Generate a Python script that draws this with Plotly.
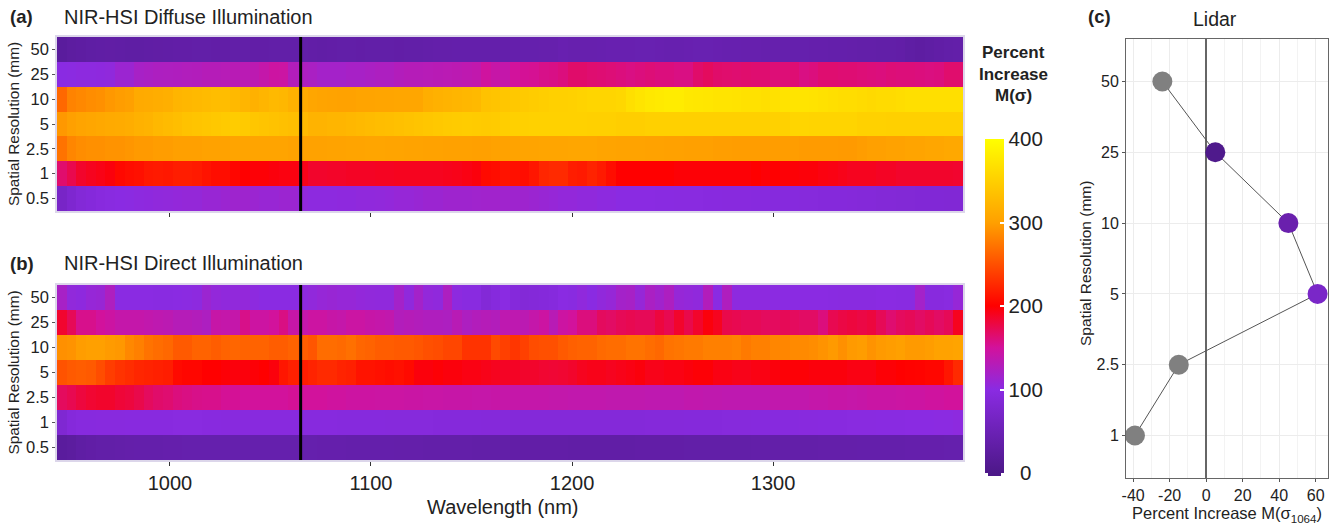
import plotly.graph_objects as go

W, H = 1336, 530

wavelength = [
    946.2, 951.0, 955.8, 960.6, 965.4, 970.2, 975.0, 979.8, 984.6, 989.4,
    994.1, 998.9, 1003.7, 1008.5, 1013.3, 1018.1, 1022.9, 1027.7, 1032.5, 1037.3,
    1042.1, 1046.9, 1051.7, 1056.5, 1061.3, 1066.1, 1070.9, 1075.7, 1080.5, 1085.3,
    1090.0, 1094.8, 1099.6, 1104.4, 1109.2, 1114.0, 1118.8, 1123.6, 1128.4, 1133.2,
    1138.0, 1142.8, 1147.6, 1152.4, 1157.2, 1162.0, 1166.8, 1171.6, 1176.4, 1181.2,
    1185.9, 1190.7, 1195.5, 1200.3, 1205.1, 1209.9, 1214.7, 1219.5, 1224.3, 1229.1,
    1233.9, 1238.7, 1243.5, 1248.3, 1253.1, 1257.9, 1262.7, 1267.5, 1272.3, 1277.1,
    1281.8, 1286.6, 1291.4, 1296.2, 1301.0, 1305.8, 1310.6, 1315.4, 1320.2, 1325.0,
    1329.8, 1334.6, 1339.4, 1344.2, 1349.0, 1353.8, 1358.6, 1363.4, 1368.2, 1373.0,
    1377.7, 1382.5, 1387.3, 1392.1,
]
resolutions = ["0.5", "1", "2.5", "5", "10", "25", "50"]

# Panel (a) percent increase by spatial resolution
a_50 = [
    22, 26, 28, 30, 31, 32, 31, 30, 30, 31,
    32, 33, 34, 34, 35, 35, 34, 34, 35, 35,
    34, 34, 35, 35, 35, 35, 34, 33, 34, 35,
    35, 34, 35, 35, 35, 34, 35, 35, 36, 37,
    37, 38, 38, 38, 38, 38, 38, 39, 40, 40,
    41, 41, 44, 42, 42, 42, 43, 44, 44, 44,
    45, 45, 44, 43, 43, 44, 45, 45, 44, 43,
    43, 42, 42, 41, 41, 40, 40, 40, 39, 39,
    38, 38, 37, 36, 36, 35, 35, 34, 30, 28,
    30, 33, 35, 36,
]
a_25 = [
    100, 101, 102, 102, 103, 104, 112, 112, 120, 122,
    124, 125, 126, 127, 128, 130, 130, 131, 132, 133,
    135, 140, 146, 145, 128, 124, 122, 118, 118, 118,
    120, 120, 122, 124, 124, 128, 130, 130, 131, 132,
    133, 134, 136, 138, 148, 142, 140, 150, 152, 153,
    156, 157, 160, 166, 166, 164, 163, 162, 160, 158,
    160, 162, 160, 160, 158, 158, 166, 170, 166, 165,
    164, 165, 164, 164, 162, 162, 163, 158, 160, 164,
    164, 163, 163, 162, 161, 160, 162, 161, 161, 160,
    159, 160, 165, 165,
]
a_10 = [
    265, 282, 285, 288, 290, 295, 298, 300, 310, 312,
    314, 316, 322, 324, 326, 328, 330, 330, 326, 322,
    318, 322, 326, 324, 318, 312, 306, 304, 303, 302,
    302, 304, 304, 305, 305, 306, 306, 306, 315, 318,
    320, 322, 324, 326, 336, 338, 340, 342, 344, 346,
    348, 350, 350, 352, 354, 356, 356, 356, 358, 366,
    372, 376, 378, 380, 380, 376, 375, 374, 372, 372,
    370, 368, 368, 366, 368, 370, 372, 372, 370, 368,
    366, 364, 364, 362, 360, 362, 362, 364, 366, 366,
    366, 366, 366, 366,
]
a_5 = [
    295, 300, 304, 306, 308, 310, 312, 314, 318, 320,
    325, 328, 332, 336, 338, 340, 342, 344, 346, 344,
    340, 338, 336, 334, 332, 326, 320, 320, 322, 322,
    324, 326, 328, 330, 332, 334, 336, 338, 340, 342,
    344, 345, 346, 345, 344, 345, 348, 350, 350, 352,
    352, 352, 352, 352, 352, 350, 350, 350, 348, 348,
    348, 350, 350, 350, 350, 350, 350, 350, 350, 350,
    350, 350, 350, 350, 352, 352, 356, 356, 355, 355,
    355, 355, 355, 352, 352, 352, 350, 350, 350, 350,
    350, 350, 350, 350,
]
a_25mm_half = [
    272, 284, 288, 290, 290, 292, 292, 294, 296, 296,
    298, 298, 300, 300, 300, 302, 302, 302, 304, 304,
    304, 304, 304, 304, 302, 302, 302, 302, 303, 303,
    304, 304, 305, 305, 304, 304, 303, 303, 302, 302,
    301, 301, 301, 300, 300, 302, 302, 303, 304, 304,
    305, 305, 305, 306, 306, 306, 304, 304, 303, 303,
    303, 302, 302, 301, 301, 300, 300, 300, 299, 299,
    298, 298, 298, 298, 298, 298, 298, 297, 297, 297,
    297, 296, 296, 298, 300, 300, 302, 302, 304, 304,
    306, 306, 308, 308,
]
a_1 = [
    165, 175, 186, 190, 193, 196, 205, 208, 210, 215,
    216, 215, 218, 218, 216, 212, 208, 208, 204, 200,
    198, 198, 196, 195, 195, 192, 186, 186, 187, 187,
    188, 188, 188, 189, 189, 190, 190, 190, 190, 190,
    191, 192, 194, 196, 206, 208, 212, 210, 208, 214,
    224, 226, 226, 218, 216, 222, 216, 208, 200, 200,
    200, 200, 200, 200, 198, 198, 198, 198, 198, 198,
    198, 198, 200, 198, 200, 198, 198, 197, 197, 195,
    194, 192, 190, 190, 190, 188, 188, 186, 186, 186,
    186, 186, 186, 185,
]
a_05 = [
    70, 80, 88, 92, 96, 98, 100, 101, 102, 103,
    104, 105, 106, 107, 107, 110, 110, 112, 114, 114,
    112, 110, 110, 112, 112, 105, 102, 102, 102, 103,
    103, 104, 104, 105, 106, 108, 108, 110, 112, 112,
    114, 114, 114, 115, 116, 116, 115, 114, 114, 112,
    110, 108, 106, 106, 104, 104, 102, 102, 100, 100,
    100, 100, 99, 99, 98, 98, 98, 97, 97, 96,
    96, 96, 95, 95, 94, 94, 94, 93, 93, 92,
    92, 92, 91, 90, 90, 88, 88, 87, 87, 86,
    86, 86, 85, 85,
]

# Panel (b) percent increase by spatial resolution
b_50 = [
    120, 105, 103, 108, 110, 125, 100, 100, 100, 100,
    99, 99, 100, 101, 102, 112, 106, 104, 105, 106,
    102, 100, 100, 100, 100, 102, 105, 108, 110, 108,
    108, 106, 105, 104, 104, 118, 104, 118, 106, 104,
    124, 102, 98, 98, 88, 94, 100, 92, 88, 90,
    92, 94, 100, 98, 104, 100, 105, 108, 118, 120,
    108, 122, 116, 124, 108, 106, 104, 128, 100, 126,
    102, 102, 102, 102, 101, 100, 100, 100, 100, 100,
    99, 98, 98, 98, 98, 100, 100, 99, 99, 118,
    96, 96, 98, 108,
]
b_25 = [
    185, 172, 155, 155, 150, 146, 140, 140, 140, 138,
    136, 134, 130, 130, 128, 124, 142, 140, 140, 156,
    146, 146, 150, 158, 142, 140, 146, 146, 142, 140,
    145, 145, 142, 140, 138, 128, 130, 128, 126, 126,
    124, 132, 124, 128, 130, 128, 136, 136, 134, 140,
    146, 132, 146, 150, 160, 160, 170, 168, 172, 174,
    172, 172, 180, 174, 186, 176, 186, 196, 190, 176,
    174, 172, 172, 170, 170, 172, 170, 168, 168, 160,
    174, 178, 180, 178, 180, 172, 164, 170, 172, 168,
    172, 168, 172, 190,
]
b_10 = [
    290, 292, 298, 300, 300, 297, 295, 285, 280, 272,
    268, 265, 256, 256, 262, 262, 258, 262, 264, 262,
    262, 262, 258, 258, 262, 258, 254, 268, 268, 266,
    270, 264, 262, 258, 258, 256, 256, 254, 250, 248,
    244, 244, 232, 232, 232, 246, 240, 234, 240, 248,
    250, 250, 256, 260, 262, 262, 266, 268, 268, 272,
    272, 268, 265, 272, 274, 276, 276, 280, 280, 280,
    282, 276, 280, 280, 284, 284, 286, 286, 288, 292,
    296, 290, 296, 298, 292, 296, 298, 300, 296, 296,
    298, 302, 302, 304,
]
b_5 = [
    252, 256, 258, 256, 248, 238, 232, 228, 224, 222,
    220, 218, 206, 204, 204, 200, 200, 198, 196, 196,
    198, 200, 196, 214, 220, 218, 222, 226, 226, 222,
    220, 212, 212, 210, 208, 210, 206, 196, 196, 198,
    196, 196, 194, 194, 192, 190, 188, 188, 186, 186,
    184, 183, 184, 186, 190, 192, 192, 190, 192, 194,
    196, 192, 192, 194, 194, 196, 198, 198, 194, 194,
    192, 192, 194, 194, 196, 198, 198, 198, 196, 196,
    196, 196, 194, 194, 194, 198, 198, 200, 201, 202,
    204, 204, 214, 226,
]
b_25mm_half = [
    170, 174, 180, 184, 186, 186, 182, 180, 176, 170,
    166, 164, 160, 158, 156, 155, 155, 152, 152, 150,
    150, 150, 150, 150, 152, 150, 150, 150, 148, 148,
    146, 146, 146, 145, 145, 145, 144, 144, 143, 143,
    142, 142, 142, 141, 141, 142, 141, 141, 140, 140,
    140, 139, 139, 138, 138, 138, 138, 137, 137, 137,
    137, 136, 136, 136, 136, 138, 138, 137, 137, 136,
    136, 136, 136, 136, 138, 138, 138, 138, 140, 140,
    142, 142, 141, 142, 144, 144, 144, 145, 146, 146,
    148, 148, 150, 150,
]
b_1 = [
    82, 92, 95, 95, 96, 96, 96, 97, 97, 97,
    97, 97, 98, 98, 98, 97, 97, 96, 96, 96,
    96, 96, 96, 96, 96, 95, 95, 95, 95, 94,
    94, 94, 94, 94, 93, 93, 93, 93, 93, 92,
    92, 92, 92, 92, 91, 91, 91, 90, 90, 90,
    90, 90, 90, 90, 90, 90, 90, 90, 90, 90,
    90, 91, 91, 91, 91, 92, 92, 92, 92, 93,
    93, 93, 94, 94, 95, 95, 95, 96, 96, 97,
    97, 97, 98, 98, 98, 99, 99, 99, 100, 100,
    100, 101, 101, 102,
]
b_05 = [
    22, 25, 30, 33, 35, 35, 36, 37, 38, 38,
    38, 39, 39, 40, 40, 40, 40, 40, 40, 40,
    40, 40, 40, 40, 40, 40, 40, 39, 39, 39,
    38, 38, 38, 38, 38, 37, 37, 37, 36, 36,
    36, 36, 36, 35, 35, 35, 35, 34, 34, 34,
    34, 34, 34, 33, 33, 33, 33, 33, 33, 33,
    34, 34, 34, 34, 34, 35, 35, 35, 35, 35,
    35, 35, 36, 36, 36, 36, 36, 36, 36, 37,
    37, 37, 37, 38, 38, 38, 38, 38, 39, 39,
    39, 39, 40, 40,
]

z_a = [a_05, a_1, a_25mm_half, a_5, a_10, a_25, a_50]
z_b = [b_05, b_1, b_25mm_half, b_5, b_10, b_25, b_50]

# Panel (c) lidar
lidar_res = ["50", "25", "10", "5", "2.5", "1"]
lidar_pct = [-24, 5, 45, 61, -15, -39]
lidar_colors = ["#808080", "#4f1a8c", "#6a20ad", "#7a27c8", "#808080", "#808080"]
lidar_order = ["1", "2.5", "5", "10", "25", "50"]

wave_ticks = [1000, 1100, 1200, 1300]
cbar_ticks = [0, 100, 200, 300, 400]
cbar_labels = ["\u00a0\u00a00", "100", "200", "300", "400"]
lidar_ticks = [-40, -20, 0, 20, 40, 60]
lidar_tick_labels = ["-40", "-20", "0", "20", "40", "60"]

colorscale = [
    [0.0, "#4d1889"], [0.25, "#8a2be2"], [0.375, "#d2129c"], [0.5, "#ff0000"],
    [0.75, "#ffa000"], [1.0, "#ffff00"],
]
FONT = "Liberation Sans, Arial, sans-serif"
INK = "#222222"
BORDER = "#dcd6ea"


def px(x):
    return x / W


def py(y):
    return 1 - y / H


fig = go.Figure()
fig.add_trace(go.Heatmap(x=wavelength, y=resolutions, z=z_a, coloraxis="coloraxis",
                         xaxis="x", yaxis="y", hoverongaps=False))
fig.add_trace(go.Heatmap(x=wavelength, y=resolutions, z=z_b, coloraxis="coloraxis",
                         xaxis="x2", yaxis="y2", hoverongaps=False))
fig.add_trace(go.Scatter(x=lidar_pct, y=lidar_res, mode="lines+markers",
                         line=dict(color="#555555", width=1),
                         marker=dict(size=20, color=lidar_colors, line=dict(width=0)),
                         xaxis="x3", yaxis="y3"))

xrange_ = [943.8, 1394.5]
common_y = dict(type="category", categoryorder="array", categoryarray=resolutions,
                range=[-0.5, 6.5], ticks="outside", ticklen=3, tickcolor="#555555",
                tickfont=dict(size=16.5, color=INK, family=FONT), showgrid=False, automargin=False,
                showline=True, linecolor=BORDER, linewidth=1.5, mirror=True,
                title=dict(text="Spatial Resolution (mm)", font=dict(size=15.4, color=INK, family=FONT),
                           standoff=3))
common_x = dict(range=xrange_, tickvals=wave_ticks, ticks="outside", ticklen=4, tickcolor="#333333",
                showgrid=False, showline=True, linecolor=BORDER, linewidth=1.5, mirror=True,
                zeroline=False, automargin=False)

fig.update_layout(
    width=W, height=H, margin=dict(l=0, r=0, t=0, b=0, autoexpand=False), autosize=False,
    paper_bgcolor="white", plot_bgcolor="white", showlegend=False,
    font=dict(family=FONT, color=INK),
    xaxis=dict(domain=[px(57), px(963)], anchor="y", showticklabels=False, **common_x),
    yaxis=dict(domain=[py(211), py(37)], anchor="x", **common_y),
    xaxis2=dict(domain=[px(57), px(963)], anchor="y2",
                tickfont=dict(size=20, color=INK, family=FONT), **common_x),
    yaxis2=dict(domain=[py(460), py(285)], anchor="x2", **common_y),
    xaxis3=dict(domain=[px(1126), px(1328)], anchor="y3", range=[-43.9, 66.7],
                tickvals=lidar_ticks, ticktext=lidar_tick_labels,
                ticks="outside", ticklen=3, tickcolor="#555555", automargin=False,
                tickfont=dict(size=16, color=INK, family=FONT),
                showgrid=True, gridcolor="#ececec", gridwidth=1,
                minor=dict(dtick=10, tick0=0, showgrid=True, gridcolor="#f3f3f3", gridwidth=1, ticks=""),
                zeroline=True, zerolinecolor="#666666", zerolinewidth=1.5,
                showline=True, linecolor="#666666", linewidth=1, mirror=True,
                title=dict(text="Percent Increase M(σ<sub>1064</sub>)",
                           font=dict(size=16.5, color=INK, family=FONT), standoff=2)),
    yaxis3=dict(domain=[py(478), py(39)], anchor="x3", type="category", categoryorder="array",
                categoryarray=lidar_order, range=[-0.6, 5.6], ticks="outside", ticklen=3,
                tickcolor="#555555", tickfont=dict(size=16, color=INK, family=FONT), automargin=False,
                showgrid=True, gridcolor="#ececec", gridwidth=1,
                showline=True, linecolor="#666666", linewidth=1, mirror=True),
    coloraxis=dict(
        cmin=0, cmax=400, colorscale=colorscale,
        colorbar=dict(
            x=px(985), xanchor="left", xpad=0, y=py(473), yanchor="bottom", ypad=0,
            lenmode="pixels", len=334, thicknessmode="pixels", thickness=19,
            outlinewidth=0, tickvals=cbar_ticks, ticktext=cbar_labels,
            ticks="inside", ticklen=4, tickcolor="white", tickwidth=2,
            tickfont=dict(size=20.5, color=INK, family=FONT),
        ),
    ),
)

# Reference line at the lidar wavelength
for xr, yr in (("x", "y domain"), ("x2", "y2 domain")):
    fig.add_shape(type="line", xref=xr, yref=yr, x0=1065, x1=1065, y0=0, y1=1,
                  line=dict(color="black", width=3), layer="above")

# Left-hand white colour-bar ticks and the small bar end-cap
for v in cbar_ticks[1:-1]:
    yy = py(473) + v / 400 * 334 / H
    fig.add_shape(type="line", xref="paper", yref="paper", x0=px(985), x1=px(989), y0=yy, y1=yy,
                  line=dict(color="white", width=2), layer="above")
fig.add_shape(type="rect", xref="paper", yref="paper", x0=px(988), x1=px(1001), y0=py(476), y1=py(473),
              fillcolor="#4d1889", line=dict(width=0), layer="above")


def label(text, x, y, size, bold=False, anchor="left", angle=0):
    fig.add_annotation(text=f"<b>{text}</b>" if bold else text, xref="paper", yref="paper",
                       x=px(x), y=py(y), xanchor=anchor, yanchor="middle", showarrow=False,
                       textangle=angle, font=dict(size=size, color=INK, family=FONT), align="center")


label("(a)", 8, 17, 18.5, bold=True)
label("NIR-HSI Diffuse Illumination", 62, 17, 20)
label("(b)", 8, 263, 18.5, bold=True)
label("NIR-HSI Direct Illumination", 62, 263, 20)
label("(c)", 1086, 17, 18.5, bold=True)
label("Lidar", 1215, 19, 19.5, anchor="center")
label("Percent", 1013, 53, 17, bold=True, anchor="center")
label("Increase", 1013, 75, 17, bold=True, anchor="center")
label("M(σ)", 1013, 96, 17, bold=True, anchor="center")
label("Wavelength (nm)", 503, 507, 20, anchor="center")
label("Spatial Resolution (mm)", 1085, 264, 15.5, anchor="center", angle=-90)

fig.write_html("out.html", config={"displayModeBar": False},
               post_script="document.body.style.margin='0';")
